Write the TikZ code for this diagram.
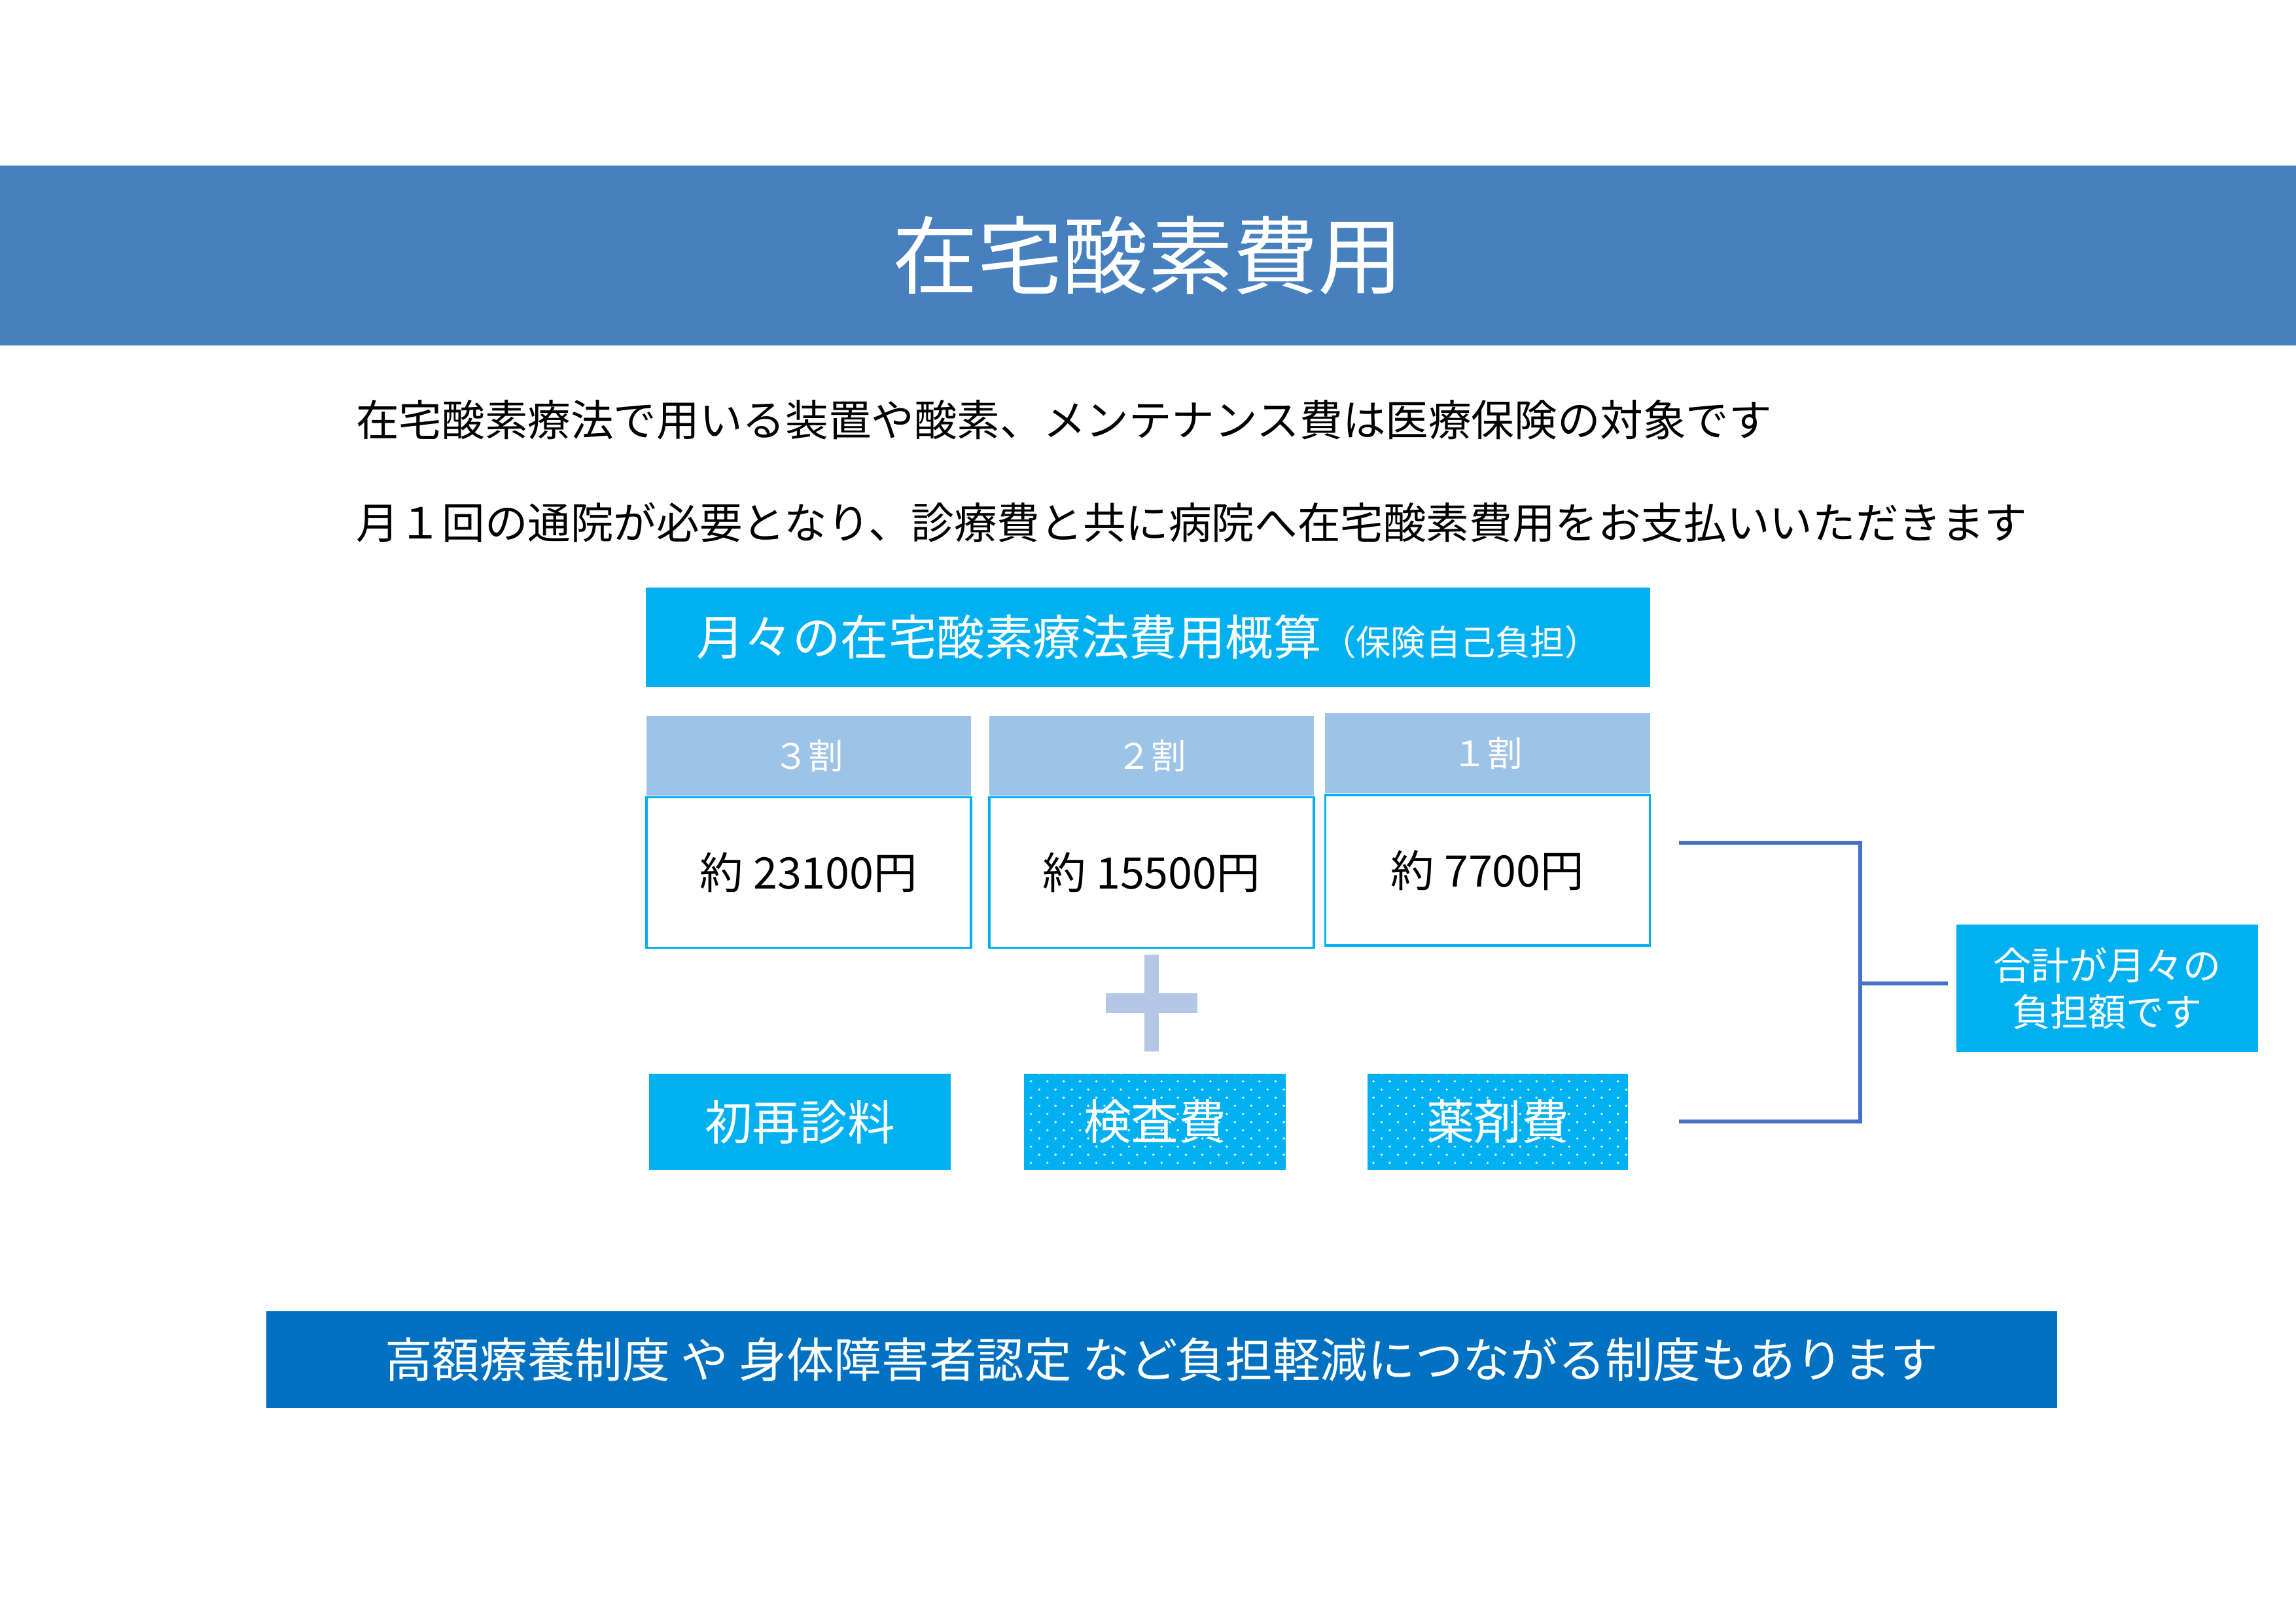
\documentclass[tikz,border=0pt]{standalone}
\usepackage{fontspec}
\setmainfont{Noto Sans CJK JP}
\usepackage{xcolor}
\usepackage{tikz}
\usetikzlibrary{positioning, patterns}
\definecolor{band}{HTML}{4780BE}
\definecolor{sky}{HTML}{00B0F0}
\definecolor{pale}{HTML}{9DC3E6}
\definecolor{plus}{HTML}{B4C7E7}
\definecolor{navy}{HTML}{0070C0}
\definecolor{brace}{HTML}{4472C4}
\pgfdeclarepatternformonly{specks}{\pgfqpoint{-1pt}{-1pt}}{\pgfqpoint{7pt}{7pt}}{\pgfqpoint{6pt}{6pt}}{%
  \pgfpathcircle{\pgfqpoint{1.5pt}{1.5pt}}{0.45pt}%
  \pgfpathcircle{\pgfqpoint{4.5pt}{4.5pt}}{0.45pt}%
  \pgfusepath{fill}}

\begin{document}
\begin{tikzpicture}[
  node distance=0pt,
  banner/.style={rectangle, fill=band, text=white, inner sep=0pt,
    minimum width=29.7cm, minimum height=2.328cm,
    font=\fontsize{31.3}{36}\selectfont},
  note/.style={anchor=west, inner sep=0pt, text=black,
    font=\fontsize{15.8}{19}\selectfont},
  sumbox/.style={rectangle, fill=sky, text=white, inner sep=0pt,
    minimum width=12.99cm, minimum height=1.287cm},
  ratehead/.style={rectangle, fill=pale, text=white, inner sep=0pt,
    minimum width=4.2cm, minimum height=1.033cm,
    font=\fontsize{12.9}{15}\selectfont},
  costbox/.style={rectangle, draw=sky, line width=0.8pt, fill=white,
    text=black, inner sep=0pt, minimum width=4.2cm, minimum height=1.947cm,
    font=\fontsize{16}{19}\selectfont},
  itembox/.style={rectangle, fill=sky, text=white, inner sep=0pt,
    minimum height=1.244cm, font=\fontsize{17.5}{20}\selectfont},
  dotted box/.style={itembox,
    postaction={pattern=specks, pattern color=white}},
  totalbox/.style={rectangle, fill=sky, text=white, inner sep=0pt,
    align=center, minimum width=3.902cm, minimum height=1.652cm,
    font=\fontsize{14}{17}\selectfont},
  footbox/.style={rectangle, fill=navy, text=white, inner sep=0pt,
    minimum width=23.165cm, minimum height=1.252cm,
    font=\fontsize{17.5}{20}\selectfont},
  link/.style={draw=brace, line width=1.3pt}
]
\useasboundingbox (0,0) rectangle (29.7,-21);

\node[banner] (title) at (14.85,-3.305) {在宅酸素費用};

\node[note] (line1) at (4.60,-5.43) {在宅酸素療法で用いる装置や酸素、メンテナンス費は医療保険の対象です};
\node[note] (line2) at (4.60,-6.76) {月１回の通院が必要となり、診療費と共に病院へ在宅酸素費用をお支払いいただきます};

\node[sumbox] (sum) at (14.85,-8.244)
  {{\fontsize{17.7}{20}\selectfont 月々の在宅酸素療法費用概算}{\fontsize{12.8}{15}\selectfont （保険自己負担）}};

\node[ratehead] (r3) at (10.461,-9.776) {３割};
\node[ratehead] (r2) at (14.896,-9.776) {２割};
\node[ratehead] (r1) at (19.243,-9.745) {１割};
\node[costbox, below=of r3] (c3) {約 23100円};
\node[costbox, below=of r2] (c2) {約 15500円};
\node[costbox, below=of r1] (c1) {約 7700円};

\fill[plus] (14.803,-12.349) rectangle (14.989,-13.601);
\fill[plus] (14.304,-12.848) rectangle (15.489,-13.102);

\node[itembox, minimum width=3.902cm] (visit) at (10.347,-14.511) {初再診料};
\node[dotted box, minimum width=3.385cm] (test) at (14.939,-14.511) {検査費};
\node[dotted box, minimum width=3.369cm] (drug) at (19.374,-14.511) {薬剤費};

\node[totalbox] (total) at (27.258,-12.785) {合計が月々の\\負担額です};

\coordinate (top) at (21.718,-10.901);
\coordinate (bot) at (21.718,-14.507);
\coordinate (joint) at (24.063,-12.721);

\draw[link] (top) -- (top -| joint) -- (bot -| joint) -- (bot);
\draw[link, shorten >=0.1cm] (joint) -- (joint -| total.west);

\node[footbox] (foot) at (15.027,-17.588) {高額療養制度 や 身体障害者認定 など負担軽減につながる制度もあります};
\end{tikzpicture}
\end{document}
